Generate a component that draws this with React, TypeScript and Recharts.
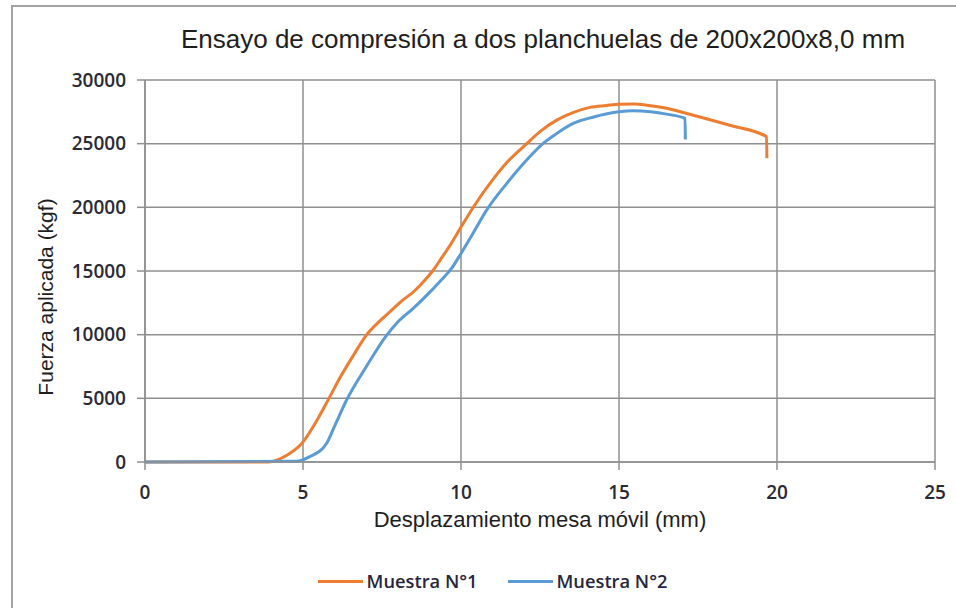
import { CartesianGrid, Line, LineChart, XAxis, YAxis } from "recharts";

const xMuestra1 = [0, 3.9, 4.5, 4.96, 5.4, 5.8, 6.2, 6.6, 7.0, 7.4, 7.75, 8.1, 8.5, 8.86, 9.1, 9.34, 9.7, 10.0, 10.4, 11.0, 11.5, 12.08, 12.5, 13.03, 13.5, 14.08, 14.6, 15.03, 15.5, 15.88, 16.5, 17.03, 17.56, 18.5, 19.67, 19.68];
const yMuestra1 = [0, 0, 550, 1450, 3100, 4900, 6750, 8400, 9950, 11000, 11800, 12600, 13370, 14290, 15000, 15860, 17200, 18450, 20050, 22150, 23650, 25000, 25950, 26850, 27400, 27850, 28000, 28100, 28120, 28020, 27780, 27450, 27100, 26450, 25550, 23850];

const xMuestra2 = [0, 4.8, 5.2, 5.75, 6.0, 6.38, 7.0, 7.65, 8.0, 8.49, 9.0, 9.34, 9.7, 10.0, 10.4, 10.81, 11.45, 12.0, 12.6, 13.0, 13.55, 14.2, 15.0, 15.45, 16.0, 16.5, 17.09, 17.1];
const yMuestra2 = [0, 50, 400, 1470, 2820, 4870, 7480, 9970, 11000, 12070, 13300, 14200, 15200, 16380, 18050, 19780, 21880, 23500, 25020, 25750, 26590, 27100, 27500, 27580, 27500, 27320, 26980, 25330];

const xTicks = [0, 5, 10, 15, 20, 25];
const yTicks = [0, 5000, 10000, 15000, 20000, 25000, 30000];

const seriesNames = ["Muestra N°1", "Muestra N°2"];
const COLORS = ["#ED7D31", "#5B9BD5"];

const muestra1 = xMuestra1.map((x, i) => ({ x, y: yMuestra1[i] }));
const muestra2 = xMuestra2.map((x, i) => ({ x, y: yMuestra2[i] }));

const GRID = "#8f8f8f";
const tickStyle = { fontSize: 19, fill: "#2a2a36", fontFamily: "Open Sans", fontWeight: 600 };

export default function App() {
    return (
        <div style={{ position: "absolute", left: 0, top: 0, width: 956, height: 608, overflow: "hidden", background: "#fff" }}>
            {/* marco del gráfico, cortado a la derecha y abajo */}
            <div style={{ position: "absolute", left: 11, top: 5, width: 1000, height: 700, border: "2px solid #a3a3a3" }} />
            <div
                style={{
                    position: "absolute", left: 0, width: 1086, top: 26, textAlign: "center",
                    fontFamily: "Liberation Sans", fontSize: 26, lineHeight: "26px", color: "#1e1e1e",
                }}
            >
                Ensayo de compresión a dos planchuelas de 200x200x8,0 mm
            </div>
            <div style={{ position: "absolute", left: 0, top: 0 }}>
                <LineChart width={956} height={608} margin={{ top: 80, right: 21, left: 0, bottom: 0 }}>
                    <CartesianGrid stroke={GRID} strokeWidth={1.5} />
                    <XAxis
                        type="number"
                        dataKey="x"
                        domain={[0, 25]}
                        ticks={xTicks}
                        height={146}
                        tickSize={8}
                        tickMargin={16}
                        stroke={GRID}
                        strokeWidth={1.5}
                        tick={tickStyle}
                        label={{
                            value: "Desplazamiento mesa móvil (mm)",
                            position: "insideTop",
                            offset: 49,
                            style: { fontSize: 22, fill: "#1e1e1e", fontFamily: "Liberation Sans" },
                        }}
                    />
                    <YAxis
                        type="number"
                        dataKey="y"
                        domain={[0, 30000]}
                        ticks={yTicks}
                        width={145}
                        tickSize={8}
                        tickMargin={11}
                        stroke={GRID}
                        strokeWidth={1.5}
                        tick={tickStyle}
                        label={{
                            content: () => (
                                <text
                                    x={45}
                                    y={297}
                                    transform="rotate(-90 45 297)"
                                    textAnchor="middle"
                                    dominantBaseline="central"
                                    style={{ fontSize: 21, fill: "#1e1e1e", fontFamily: "Liberation Sans" }}
                                >
                                    Fuerza aplicada (kgf)
                                </text>
                            ),
                        }}
                    />
                    <Line data={muestra1} dataKey="y" name={seriesNames[0]} type="monotone" stroke={COLORS[0]} strokeWidth={3} dot={false} isAnimationActive={false} />
                    <Line data={muestra2} dataKey="y" name={seriesNames[1]} type="monotone" stroke={COLORS[1]} strokeWidth={3} dot={false} isAnimationActive={false} />
                </LineChart>
            </div>
            {/* leyenda */}
            <div
                style={{
                    position: "absolute", left: 0, width: 985, top: 569, display: "flex", justifyContent: "center", gap: 30,
                    fontFamily: "Open Sans", fontSize: 18.3, fontWeight: 600, color: "#262640", lineHeight: "24px",
                }}
            >
                {seriesNames.map((name, i) => (
                    <div key={name} style={{ display: "flex", alignItems: "center" }}>
                        <span style={{ display: "inline-block", width: 45, height: 3, background: COLORS[i], marginRight: 4 }} />
                        {name}
                    </div>
                ))}
            </div>
        </div>
    );
}
